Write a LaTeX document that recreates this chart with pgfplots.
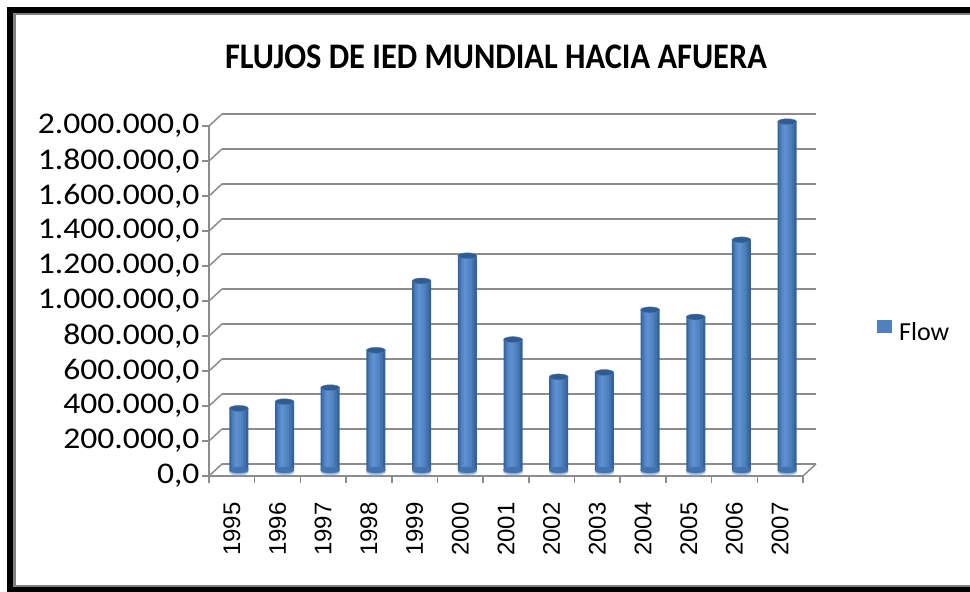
\documentclass[border=0pt]{standalone}
\usepackage{pgfplots}
\pgfplotsset{compat=1.18}
\usepackage{fontspec}
\setmainfont{Carlito}
\newfontfamily\arialf{Liberation Sans}
\newfontfamily\titlef[FakeStretch=0.9]{Carlito}
\newfontfamily\ylabf[FakeStretch=1.12]{Carlito}
\definecolor{cblue}{HTML}{4F81BD}
\definecolor{c1}{HTML}{35629B}
\definecolor{c2}{HTML}{4373AF}
\definecolor{c3}{HTML}{4F81BD}
\definecolor{c4}{HTML}{5689C8}
\definecolor{c5}{HTML}{5C90D2}
\definecolor{ctop}{HTML}{2F5D93}
\definecolor{gridc}{HTML}{8C8C8C}
\pgfdeclareplotmark{cyltop}{\pgfpathellipse{\pgfpointorigin}{\pgfqpoint{9.5pt}{0pt}}{\pgfqpoint{0pt}{3pt}}\pgfusepathqfillstroke}
\begin{document}
\begin{tikzpicture}[x=1pt,y=1pt]
\useasboundingbox (0pt,0pt) rectangle (970pt,-592pt);
\fill[white] (0pt,0pt) rectangle (970pt,-592pt);
\fill[black] (7pt,-7pt) rectangle (970pt,-13pt);
\fill[black] (7pt,-7pt) rectangle (13pt,-592pt);
\fill[black] (7pt,-587pt) rectangle (970pt,-592pt);
\fill[gray] (13pt,-13pt) rectangle (970pt,-15pt);
\fill[gray] (13pt,-13pt) rectangle (16pt,-587pt);
\fill[gray] (13pt,-585pt) rectangle (970pt,-587pt);
\node[font=\titlef\fontsize{36}{40}\selectfont\bfseries] at (496pt,-57pt) {FLUJOS DE IED MUNDIAL HACIA AFUERA};
\begin{axis}[
  at={(209pt,-476pt)}, anchor=south west,
  scale only axis, width=594pt, height=350pt,
  xmin=-0.5, xmax=12.5, ymin=0, ymax=2000000,
  axis x line*=bottom, axis y line*=left,
  axis line style={gridc, line width=1.5pt, -},
  ytick={0,200000,...,2000000},
  ymajorgrids,
  major grid style={gridc, line width=1.5pt, xshift=13pt, yshift=12pt},
  tick style={gridc, line width=1.5pt},
  major tick length=7pt, minor tick length=7pt,
  tick align=outside,
  xtick={0,...,12},
  xticklabels={1995,1996,1997,1998,1999,2000,2001,2002,2003,2004,2005,2006,2007},
  major x tick style={draw=none},
  minor xtick={-0.5,0.5,...,12.5},
  xticklabel shift=16pt,
  xticklabel style={rotate=90, anchor=east, font=\arialf\fontsize{24}{26}\selectfont},
  yticklabel style={font=\ylabf\fontsize{30}{34}\selectfont, xshift=1pt},
  scaled y ticks=false,
  /pgf/number format/.cd, fixed, fixed zerofill, precision=1, 1000 sep={.}, use comma, assume math mode=true,
  /pgfplots/.cd,
  legend style={at={(1.1246,0.411)}, anchor=west, draw=none, fill=none, font=\fontsize{26}{30}\selectfont, inner sep=0pt,
    /tikz/every odd column/.style={column sep=5pt}},
  clip=false,
]
\pgfplotsinvokeforeach{0,200000,400000,600000,800000,1000000,1200000,1400000,1600000,1800000,2000000}{
  \draw[gridc, line width=1.5pt] (axis cs:-0.5,#1) -- ++(13pt,12pt);
}
\draw[gridc, line width=1.5pt] (axis cs:12.5,0) -- ++(13pt,12pt);
\addplot[forget plot, only marks, mark=cyltop, mark options={fill=c4!55!white, draw=c4!40!white}, xshift=7pt, yshift=4pt]
 coordinates {(0,0)(1,0)(2,0)(3,0)(4,0)(5,0)(6,0)(7,0)(8,0)(9,0)(10,0)(11,0)(12,0)};
\addplot[forget plot, only marks, mark=cyltop, mark options={fill=c2, draw=c2}, xshift=7pt, yshift=6pt]
 coordinates {(0,0)(1,0)(2,0)(3,0)(4,0)(5,0)(6,0)(7,0)(8,0)(9,0)(10,0)(11,0)(12,0)};
\addplot[forget plot, ybar, bar width=19pt, bar shift=7pt, yshift=6pt, draw=none, fill=c1]
 coordinates {(0,352000)(1,390000)(2,470000)(3,684000)(4,1080000)(5,1224000)(6,745000)(7,532000)(8,557000)(9,915000)(10,874000)(11,1315000)(12,1990000)};
\addplot[forget plot, ybar, bar width=15pt, bar shift=6.5pt, yshift=6pt, draw=none, fill=c2]
 coordinates {(0,352000)(1,390000)(2,470000)(3,684000)(4,1080000)(5,1224000)(6,745000)(7,532000)(8,557000)(9,915000)(10,874000)(11,1315000)(12,1990000)};
\addplot[ybar, bar width=11pt, bar shift=6pt, yshift=6pt, draw=none, fill=c3,
  legend image code/.code={\fill[cblue] (0pt,-6.5pt) rectangle (15pt,6.5pt);}]
 coordinates {(0,352000)(1,390000)(2,470000)(3,684000)(4,1080000)(5,1224000)(6,745000)(7,532000)(8,557000)(9,915000)(10,874000)(11,1315000)(12,1990000)};
\addlegendentry{Flow}
\addplot[forget plot, ybar, bar width=7pt, bar shift=5.5pt, yshift=6pt, draw=none, fill=c4]
 coordinates {(0,352000)(1,390000)(2,470000)(3,684000)(4,1080000)(5,1224000)(6,745000)(7,532000)(8,557000)(9,915000)(10,874000)(11,1315000)(12,1990000)};
\addplot[forget plot, ybar, bar width=3pt, bar shift=5pt, yshift=6pt, draw=none, fill=c5]
 coordinates {(0,352000)(1,390000)(2,470000)(3,684000)(4,1080000)(5,1224000)(6,745000)(7,532000)(8,557000)(9,915000)(10,874000)(11,1315000)(12,1990000)};
\addplot[forget plot, only marks, mark=cyltop, mark options={fill=ctop, draw=c3}, xshift=7pt, yshift=6pt]
 coordinates {(0,352000)(1,390000)(2,470000)(3,684000)(4,1080000)(5,1224000)(6,745000)(7,532000)(8,557000)(9,915000)(10,874000)(11,1315000)(12,1990000)};
\end{axis}
\end{tikzpicture}
\end{document}
